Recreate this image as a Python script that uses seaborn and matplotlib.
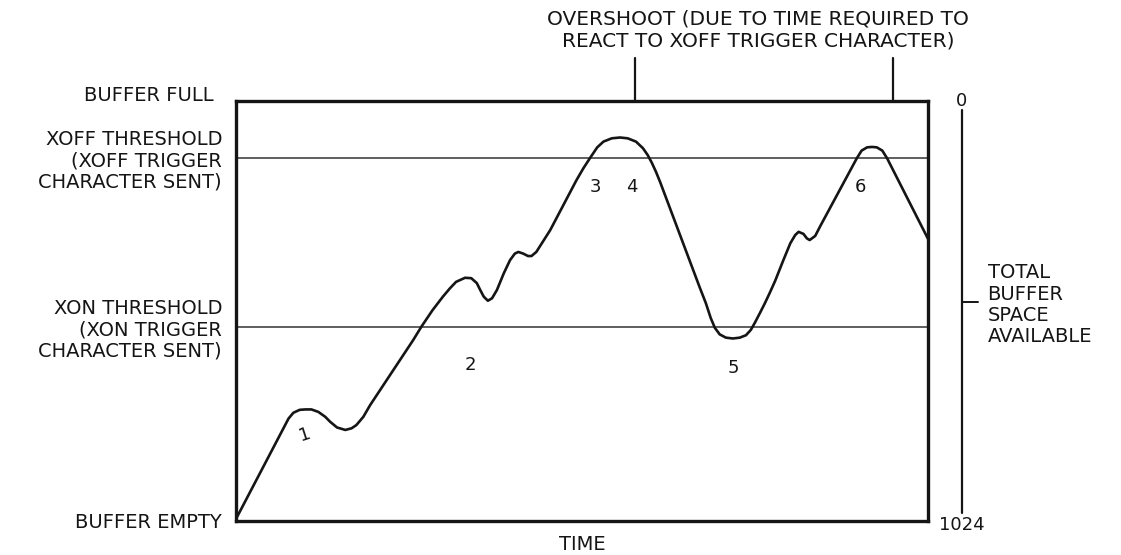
import matplotlib
matplotlib.use("Agg")
import matplotlib.pyplot as plt
import seaborn as sns
import pandas as pd

# Buffer fill level (characters) over time, as traced for the XON/XOFF flow-control cycle
time_pts = [0, 7.6, 8.3, 9.2, 10.0, 10.9, 11.9, 12.9, 13.6, 14.6, 15.8, 16.7, 17.4, 18.4, 19.4,
            25.6, 26.8, 28.4, 29.9, 30.9, 31.8, 33.1, 34.0, 34.8, 35.3, 35.8, 36.4, 37.0, 37.7,
            38.7, 39.6, 40.3, 40.8, 41.5, 42.2, 42.7, 43.4, 45.4,
            49.2, 50.2, 51.2, 52.2, 53.1, 54.3, 55.5, 56.6, 57.8, 58.8, 59.5, 60.1, 60.7, 61.3,
            67.0, 67.9, 68.6, 69.2, 69.9, 70.8, 71.8, 72.8, 73.7, 74.4, 75.0, 75.8, 76.4,
            77.1, 77.9, 79.1, 80.1, 80.8, 81.3, 82.0, 82.5, 82.9, 83.7, 84.4,
            89.7, 90.4, 91.2, 91.9, 92.6, 93.4, 94.1, 100.0]
fill_pts = [5, 250, 264, 271, 272, 272, 266, 254, 242, 228, 222, 226, 234, 254, 283,
            441, 474, 514, 547, 567, 583, 593, 592, 580, 563, 547, 537, 543, 563,
            604, 636, 652, 656, 652, 646, 646, 656, 709,
            831, 860, 886, 911, 925, 933, 935, 933, 925, 909, 892, 873, 851, 826,
            570, 531, 495, 471, 455, 447, 445, 447, 453, 466, 484, 510, 530,
            555, 585, 636, 677, 697, 705, 700, 689, 685, 695, 718,
            884, 903, 911, 912, 911, 903, 884, 688]

BUFFER_SIZE = 1024
XOFF_LEVEL = 885
XON_LEVEL = 473

level_labels = ["BUFFER EMPTY",
                "XON THRESHOLD\n(XON TRIGGER\nCHARACTER SENT)",
                "XOFF THRESHOLD\n(XOFF TRIGGER\nCHARACTER SENT)"]
level_values = [0, XON_LEVEL, XOFF_LEVEL]

event_labels = ["1", "2", "3", "4", "5", "6"]
event_x = [10.0, 33.8, 51.9, 57.2, 71.8, 90.2]
event_y = [210, 380, 814, 814, 373, 814]

overshoot_x = [57.7, 94.9]
space_scale_labels = ["0", "1024"]

sns.set_theme(style="white")
plt.rcParams["font.family"] = ["DejaVu Sans"]
FS = 14
INK = "#151515"

fig = plt.figure(figsize=(11.21, 5.55), dpi=100)
ax = fig.add_axes([236 / 1121, 34 / 555, 692 / 1121, 420 / 555])

df = pd.DataFrame({"time": time_pts, "fill": fill_pts})
sns.lineplot(data=df, x="time", y="fill", ax=ax, color=INK, linewidth=1.9,
             estimator=None, sort=False)
for ln in ax.lines:
    ln.set_solid_joinstyle("round")
    ln.set_solid_capstyle("round")

ax.axhline(XOFF_LEVEL, color="#333333", linewidth=1.1, zorder=1)
ax.axhline(XON_LEVEL, color="#333333", linewidth=1.1, zorder=1)

ax.set_xticks([])
ax.set_yticks(level_values)
ax.set_yticklabels(level_labels, fontsize=FS, color=INK, linespacing=1.15)
ax.tick_params(axis="y", length=0, pad=10)
ax.set_xlim(0, 100)
ax.set_ylim(0, BUFFER_SIZE)
ax.set_ylabel("")
ax.set_xlabel("TIME", fontsize=FS, color=INK, labelpad=10)

for side in ["left", "right", "top", "bottom"]:
    ax.spines[side].set_visible(True)
    ax.spines[side].set_color(INK)
    ax.spines[side].set_linewidth(2.4)

ax.text(-3.3, BUFFER_SIZE + 14, "BUFFER FULL", fontsize=FS, color=INK,
        ha="right", va="center", clip_on=False)

# Numbered events along the curve
for lbl, ex, ey in zip(event_labels, event_x, event_y):
    ax.text(ex, ey, lbl, fontsize=FS - 1, color=INK, ha="center", va="center",
            rotation=18 if lbl == "1" else 0)

# Overshoot callout above the frame
for ox in overshoot_x:
    ax.plot([ox, ox], [BUFFER_SIZE, 1129], color=INK, linewidth=1.6, clip_on=False)
ax.text(75.4, 1197, "OVERSHOOT (DUE TO TIME REQUIRED TO\nREACT TO XOFF TRIGGER CHARACTER)",
        fontsize=FS + 0.5, color=INK, ha="center", va="center", multialignment="center",
        linespacing=1.15, clip_on=False)

# Buffer space scale on the right
sx = 104.9
ax.plot([sx, sx], [19, 1002], color=INK, linewidth=1.6, clip_on=False)
ax.plot([sx, 107.2], [534, 534], color=INK, linewidth=1.4, clip_on=False)
ax.text(sx, 1024, space_scale_labels[0], fontsize=FS - 1, color=INK, ha="center", va="center",
        clip_on=False)
ax.text(sx, -10, space_scale_labels[1], fontsize=FS - 1, color=INK, ha="center", va="center",
        clip_on=False)
ax.text(108.6, 527, "TOTAL\nBUFFER\nSPACE\nAVAILABLE", fontsize=FS, color=INK,
        ha="left", va="center", linespacing=1.15, clip_on=False)

fig.savefig("out.png", dpi=100, facecolor="white")
